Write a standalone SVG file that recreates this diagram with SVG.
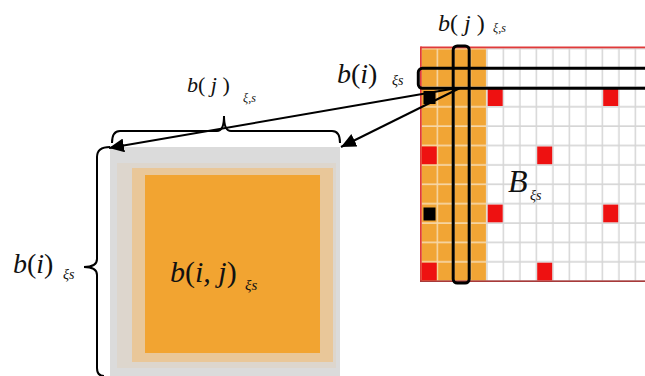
<svg xmlns="http://www.w3.org/2000/svg" width="645" height="376" viewBox="0 0 645 376">
<style>
.t{font-family:"Liberation Serif","Times New Roman",serif;font-style:italic;fill:#111}
.u{font-style:normal}
.ln{stroke:#000;stroke-width:2;fill:none}
.hl{stroke:#000;stroke-width:3;fill:none}
.red{fill:#ee1111}
.blk{fill:#000}
</style>
<defs>
<pattern id="grid" patternUnits="userSpaceOnUse" x="421.7" y="49.5" width="16.5" height="19.38">
<rect width="16.5" height="19.38" fill="#d6d6d6"/>
<rect width="15" height="17.7" fill="#fff"/>
</pattern>
<pattern id="ogrid" patternUnits="userSpaceOnUse" x="421.7" y="49.5" width="16.5" height="19.38">
<rect width="16.5" height="19.38" fill="#f6d7a8"/>
<rect width="15" height="17.7" fill="#f1a535"/>
</pattern>
<marker id="ah" markerUnits="userSpaceOnUse" markerWidth="16" markerHeight="14" refX="15" refY="7" orient="auto">
<path d="M0,0 L15,7 L0,14 Z" fill="#000"/>
</marker>
</defs>

<g id="matrix">
<rect x="420.5" y="47" width="225" height="235" fill="url(#grid)"/>
<rect x="420.5" y="47" width="65.7" height="235" fill="url(#ogrid)"/>
<rect x="420.5" y="46.5" width="225" height="1.8" fill="#e03a3a"/>
<rect x="420" y="46.5" width="1.7" height="235" fill="#e03a3a"/>
<rect x="420" y="280.4" width="225" height="1.6" fill="#a83a3a"/>
<rect class="blk" x="423.5" y="91" width="12" height="13"/>
<rect class="blk" x="423.5" y="207.5" width="12" height="13"/>
<rect class="red" x="487.7" y="88.3" width="15" height="17.7"/>
<rect class="red" x="603.2" y="88.3" width="15" height="17.7"/>
<rect class="red" x="421.7" y="146.5" width="15" height="17.7"/>
<rect class="red" x="537.2" y="146.5" width="15" height="17.7"/>
<rect class="red" x="487.7" y="204.6" width="15" height="17.7"/>
<rect class="red" x="603.2" y="204.6" width="15" height="17.7"/>
<rect class="red" x="421.7" y="262.7" width="15" height="17.7"/>
<rect class="red" x="537.2" y="262.7" width="15" height="17.7"/>
<text class="t" x="508" y="192" font-size="32">B</text>
<text class="t" x="530" y="200" font-size="14">ξs</text>
</g>

<g id="row-highlight">
<rect class="hl" x="418.3" y="68.3" width="240" height="20" rx="4"/>
<text class="t" x="337" y="82.5" font-size="28">b<tspan class="u">(</tspan>i<tspan class="u">)</tspan></text>
<text class="t" x="392" y="84.5" font-size="14">ξs</text>
</g>

<g id="col-highlight">
<rect class="hl" x="453.2" y="46" width="16" height="237" rx="4"/>
<text class="t" x="438" y="30.7" font-size="24" xml:space="preserve">b<tspan class="u">( </tspan>j<tspan class="u"> )</tspan></text>
<text class="t" x="493" y="32.3" font-size="12">ξ,s</text>
</g>

<g id="block">
<rect x="110" y="147" width="230" height="229" fill="#dbdbdb"/>
<rect x="117" y="163" width="219" height="205" fill="#ddd6cd"/>
<rect x="132" y="168" width="201" height="194" fill="#e9c799"/>
<rect x="145" y="175" width="175" height="178" fill="#f2a431"/>
<text class="t" x="170" y="282" font-size="30">b<tspan class="u">(</tspan>i, j<tspan class="u">)</tspan></text>
<text class="t" x="245" y="290" font-size="15">ξs</text>
</g>

<g id="top-brace">
<path class="ln" d="M112,143 Q112,131 120,131 L217,131 Q224,131 224,116 Q224,131 231,131 L332,131 Q340,131 340,143"/>
<text class="t" x="187" y="91.7" font-size="22" xml:space="preserve">b<tspan class="u">( </tspan>j<tspan class="u"> )</tspan></text>
<text class="t" x="243" y="101.5" font-size="12">ξ,s</text>
</g>

<g id="left-brace">
<path class="ln" d="M110,147 Q97,147 97,157 L97,259 Q97,267 84,267 Q97,267 97,275 L97,368 Q97,376 104,376"/>
<text class="t" x="13" y="272.7" font-size="28">b<tspan class="u">(</tspan>i<tspan class="u">)</tspan></text>
<text class="t" x="63" y="279" font-size="14">ξs</text>
</g>

<g id="connectors">
<line class="ln" x1="457" y1="88" x2="109" y2="148" marker-end="url(#ah)"/>
<line class="ln" x1="460" y1="88" x2="341" y2="147" marker-end="url(#ah)"/>
</g>
</svg>
